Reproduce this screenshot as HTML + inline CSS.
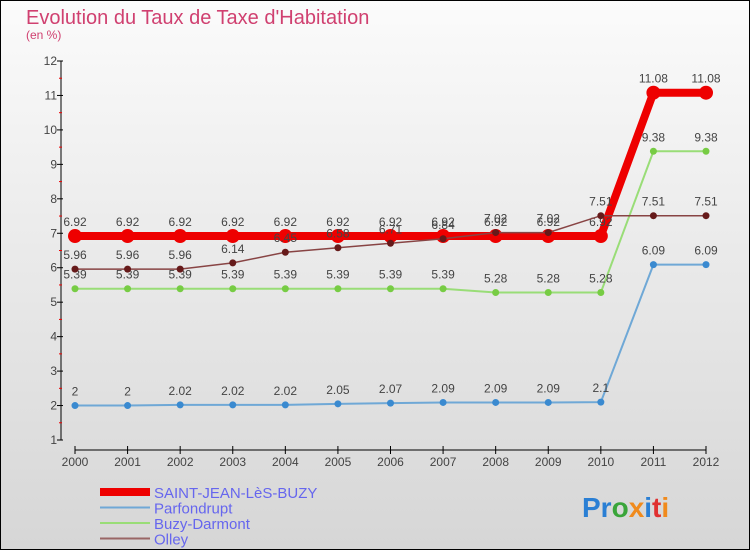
<!DOCTYPE html>
<html><head><meta charset="utf-8"><style>
html,body{margin:0;padding:0}
body{width:750px;height:550px;overflow:hidden;font-family:"Liberation Sans",sans-serif}
</style></head><body>
<svg width="750" height="550" xmlns="http://www.w3.org/2000/svg">
<defs><linearGradient id="bg" x1="0" y1="0" x2="0" y2="1"><stop offset="0" stop-color="#fbfbfb"/><stop offset="1" stop-color="#d6d6d6"/></linearGradient></defs>
<rect x="0.5" y="0.5" width="749" height="549" fill="url(#bg)" stroke="#000"/>
<text x="26" y="24" font-size="20" fill="#d04070">Evolution du Taux de Taxe d'Habitation</text>
<text x="26" y="39" font-size="12" fill="#d04070">(en %)</text>
<g id="axes"></g>
<g id="series"></g>
<g id="legend"></g>
<text x="582" y="517" font-size="28" font-weight="bold"><tspan fill="#2a7fd4">Pr</tspan><tspan fill="#3aa53a">o</tspan><tspan fill="#f08a1c">x</tspan><tspan fill="#2a7fd4">i</tspan><tspan fill="#e03030">t</tspan><tspan fill="#f08a1c">i</tspan></text>
</svg>
<script>
const years=[2000,2001,2002,2003,2004,2005,2006,2007,2008,2009,2010,2011,2012];
const yTicks=[1,2,3,4,5,6,7,8,9,10,11,12];
const names=["SAINT-JEAN-LèS-BUZY","Parfondrupt","Buzy-Darmont","Olley"];
const stJean=[6.92,6.92,6.92,6.92,6.92,6.92,6.92,6.92,6.92,6.92,6.92,11.08,11.08];
const parfondrupt=[2,2,2.02,2.02,2.02,2.05,2.07,2.09,2.09,2.09,2.1,6.09,6.09];
const buzy=[5.39,5.39,5.39,5.39,5.39,5.39,5.39,5.39,5.28,5.28,5.28,9.38,9.38];
const olley=[5.96,5.96,5.96,6.14,6.45,6.58,6.71,6.84,7.02,7.02,7.51,7.51,7.51];
const NS="http://www.w3.org/2000/svg";
function X(i){return 75+i*(706-75)/(years.length-1);}
function Y(v){return 61+(12-v)*(440-61)/11;}
function mk(tag,attrs,parent,txt){const e=document.createElementNS(NS,tag);for(const k in attrs)e.setAttribute(k,attrs[k]);if(txt!==undefined)e.textContent=txt;parent.appendChild(e);return e;}
const ax=document.getElementById('axes');
let l=mk('line',{x1:61,y1:Y(12),x2:61,y2:Y(1),stroke:'#000'},ax);


l=mk('line',{x1:75,y1:450,x2:706,y2:450,stroke:'#000'},ax);


yTicks.forEach(t=>{
 mk('line',{x1:57,y1:Y(t),x2:63,y2:Y(t),stroke:'#000'},ax);
 if(t<12)mk('line',{x1:59,y1:Y(t+0.5),x2:62,y2:Y(t+0.5),stroke:'#e00'},ax);
 const tx=mk('text',{x:57,y:Y(t)+4,'font-size':12,'text-anchor':'end',fill:'#444'},ax,String(t));
 
 
});
years.forEach((yr,i)=>{
 mk('line',{x1:X(i),y1:446,x2:X(i),y2:454,stroke:'#000'},ax);
 const tx=mk('text',{x:X(i),y:466,'font-size':12,'text-anchor':'middle',fill:'#444'},ax,String(yr));
 
 
});
const sg=document.getElementById('series');
function series(vals,color,w,r,dot,name){
 const g=mk('g',{},sg);
 
 
 mk('polyline',{points:vals.map((v,i)=>X(i)+','+Y(v)).join(' '),fill:'none',stroke:color,'stroke-width':w},g);
 vals.forEach((v,i)=>{
  const c=mk('circle',{cx:X(i),cy:Y(v),r:r,fill:dot},g);
  
  
  const t=mk('text',{x:X(i),y:Y(v)-10,'font-size':12,'text-anchor':'middle',fill:'#444'},g,String(v));
  
  
 });
}
series(parfondrupt,'#6fa8d6',2,3.5,'#3a8ad0','series-parfondrupt');
series(buzy,'#99dd77',2,3.5,'#77cc44','series-buzy-darmont');
series(stJean,'#ee0000',8,7,'#ee0000','series-saint-jean');
series(olley,'#884444',1.5,3.5,'#661a1a','series-olley');
const lg=document.getElementById('legend');
const lcol=['#ee0000','#6fa8d6','#99dd77','#996666'];
const lw=[8,2,2,2];
names.forEach((n,i)=>{
 const y=492+i*15.5;
 const g=mk('g',{},lg);
 
 
 mk('line',{x1:100,y1:y,x2:150,y2:y,stroke:lcol[i],'stroke-width':lw[i]},g);
 mk('text',{x:154,y:y+6,'font-size':15,fill:'#6666ee'},g,n);
});
</script>
</body></html>
